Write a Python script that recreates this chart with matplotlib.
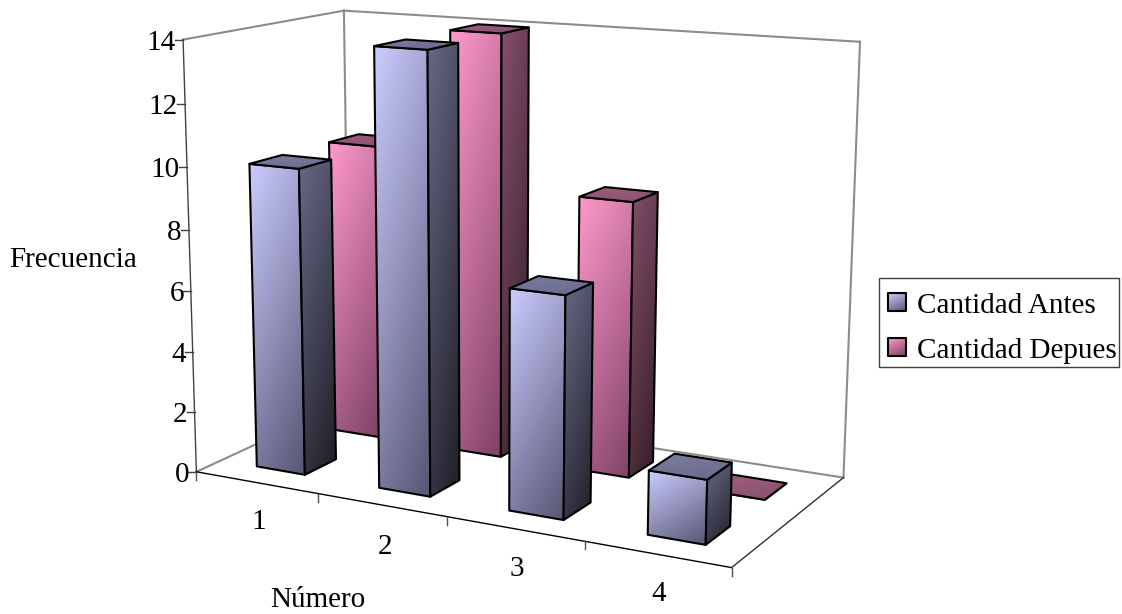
import numpy as np
import matplotlib
matplotlib.use("Agg")
import matplotlib.pyplot as plt
from matplotlib.patches import Polygon, Rectangle

categories = ["1", "2", "3", "4"]
cantidad_antes = [10, 14, 7, 2]
cantidad_depues = [10, 14, 9, 0]
y_ticks = [0, 2, 4, 6, 8, 10, 12, 14]
y_max = 14
bar_fraction = 0.4

# Corners of the chart box: (across, depth, height) in unit space -> pixels
BOX_CORNERS = [
    ((0, 0, 0), (197, 472)), ((0, 0, 1), (183, 39)), ((1, 0, 0), (731, 568)),
    ((1, 1, 0), (844, 477)), ((0, 1, 0), (349, 401)), ((0, 1, 1), (344, 11)),
    ((1, 1, 1), (860, 42)),
]


def fit_projection(corners):
    """Solve the 3x4 perspective camera matrix from point correspondences."""
    rows, rhs = [], []
    for (a, b, c), (px, py) in corners:
        rows.append([a, b, c, 1, 0, 0, 0, 0, -px * a, -px * b, -px * c])
        rhs.append(px)
        rows.append([0, 0, 0, 0, a, b, c, 1, -py * a, -py * b, -py * c])
        rhs.append(py)
    sol = np.linalg.lstsq(np.array(rows, float), np.array(rhs, float), rcond=None)[0]
    return np.append(sol, 1.0).reshape(3, 4)


CAMERA = fit_projection(BOX_CORNERS)


def project(u, v, w):
    h = CAMERA @ np.array([u, v, w, 1.0])
    return h[0] / h[2], h[1] / h[2]


def lerp_image(c0, c1, n=96):
    """Gradient from the top-left to the bottom-right corner, mostly vertical."""
    xx, yy = np.meshgrid(np.linspace(0, 1, n), np.linspace(0, 1, n))
    t = (0.33 * xx + 0.67 * yy)[..., None]
    return (np.array(c0) * (1 - t) + np.array(c1) * t) / 255.0


def gradient_poly(ax, pts, c0, c1, zorder=2, lw=1.5):
    pts = np.array(pts)
    xs, ys = pts[:, 0], pts[:, 1]
    x0, x1, y0, y1 = xs.min(), xs.max(), ys.min(), ys.max()
    if x1 - x0 < 0.5 or y1 - y0 < 0.5:
        return
    im = ax.imshow(lerp_image(c0, c1), extent=(x0, x1, y1, y0),
                   aspect="auto", zorder=zorder, interpolation="bilinear")
    im.set_clip_path(Polygon(pts, closed=True, transform=ax.transData))
    ax.add_patch(Polygon(pts, closed=True, fill=False, edgecolor="black",
                         linewidth=lw, joinstyle="round", zorder=zorder + 0.1))


def draw_bar(ax, u0, u1, v0, v1, w, pal, zorder):
    fl, fr = project(u0, v0, w), project(u1, v0, w)
    bl, br = project(u0, v1, w), project(u1, v1, w)
    fl0, fr0 = project(u0, v0, 0), project(u1, v0, 0)
    br0 = project(u1, v1, 0)
    gradient_poly(ax, [fl, fr, fr0, fl0], *pal["front"], zorder=zorder)
    gradient_poly(ax, [fr, br, br0, fr0], *pal["side"], zorder=zorder + 0.2)
    gradient_poly(ax, [fl, bl, br, fr], *pal["top"], zorder=zorder + 0.4)


PALETTES = [
    {"front": ((204, 204, 255), (85, 85, 115)),
     "side": ((104, 104, 135), (30, 30, 38)),
     "top": ((125, 125, 160), (105, 105, 140))},
    {"front": ((255, 153, 204), (125, 65, 100)),
     "side": ((134, 80, 108), (50, 28, 38)),
     "top": ((160, 95, 130), (135, 80, 110))},
]

fig = plt.figure(figsize=(11.22, 6.14), dpi=100)
ax = fig.add_axes([0, 0, 1, 1])
plt.rcParams["font.family"] = ["Liberation Serif", "DejaVu Serif"]
FS = 21

# Chart box: gray walls and floor edges behind the bars
wall = "#8c8c8c"
for a, b in [((0, 0, 1), (0, 1, 1)), ((0, 1, 1), (1, 1, 1)), ((0, 1, 0), (0, 1, 1)),
             ((1, 1, 0), (1, 1, 1)), ((0, 0, 0), (0, 1, 0)), ((0, 1, 0), (1, 1, 0))]:
    p, q = project(*a), project(*b)
    ax.plot([p[0], q[0]], [p[1], q[1]], color=wall, lw=1.5, zorder=1)

# Front axis lines
for a, b, col in [((0, 0, 0), (0, 0, 1), "#404040"), ((0, 0, 0), (1, 0, 0), "black"),
                  ((1, 0, 0), (1, 1, 0), "#303030")]:
    p, q = project(*a), project(*b)
    ax.plot([p[0], q[0]], [p[1], q[1]], color=col, lw=1.0, zorder=1.5)

# Value axis ticks and labels
for val in y_ticks:
    px, py = project(0, 0, val / y_max)
    ax.plot([px - 8, px], [py, py], color="#404040", lw=1.0, zorder=1.5)
    ax.text(px - 7, py + 3, str(val), ha="right", va="center", fontsize=FS, color="black")

# Category ticks and labels
n_cat = len(categories)
for i in range(n_cat + 1):
    px, py = project(i / n_cat, 0, 0)
    ax.plot([px, px], [py, py + 8], color="#505050", lw=1.0, zorder=1.5)
label_nudge_x = [3, 4, 2, 2]
label_nudge_y = [39, 42, 40, 40]
for i, name in enumerate(categories):
    px, py = project((i + 0.5) / n_cat, 0, 0)
    ax.text(px + label_nudge_x[i], py + label_nudge_y[i], name, ha="center", va="center",
            fontsize=FS, color="black")

ax.text(73, 260, "Frecuencia", ha="center", va="center", fontsize=FS, color="black")
ax.text(318, 600, "Número", ha="center", va="center", fontsize=FS, color="black")

# Bars: back row first so the front row overlaps it
margin = (1 - bar_fraction) / 2
n_rows = 2
for row in [1, 0]:
    values = [cantidad_antes, cantidad_depues][row]
    for i, val in enumerate(values):
        u0 = (i + margin) / n_cat
        u1 = (i + 1 - margin) / n_cat
        v0 = (row + margin) / n_rows
        v1 = (row + 1 - margin) / n_rows
        draw_bar(ax, u0, u1, v0, v1, val / y_max, PALETTES[row], zorder=3 + (1 - row) * 5 + i * 0.01)

# Legend
ax.add_patch(Rectangle((879, 278), 240, 89, facecolor="white", edgecolor="#404040", lw=1.0, zorder=10))
for (y, label, pal) in [(293, "Cantidad Antes", PALETTES[0]), (338, "Cantidad Depues", PALETTES[1])]:
    gradient_poly(ax, [(888, y), (906, y), (906, y + 18), (888, y + 18)],
                  pal["front"][0], pal["front"][1], zorder=11)
    ax.text(917, y + 13, label, ha="left", va="center", fontsize=FS, color="black", zorder=12)

ax.set_xlim(0, 1122)
ax.set_ylim(614, 0)
ax.axis("off")
fig.savefig("out.png", dpi=100, facecolor="white")
